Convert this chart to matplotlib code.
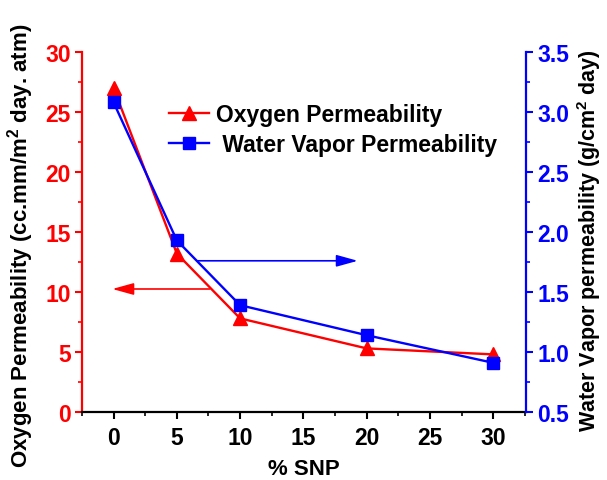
import matplotlib
matplotlib.use("Agg")
import matplotlib.pyplot as plt

snp = [0, 5, 10, 20, 30]
oxygen = [27.0, 13.2, 7.8, 5.3, 4.8]
water = [3.08, 1.93, 1.39, 1.14, 0.91]
xticks = [0, 5, 10, 15, 20, 25, 30]
yticks_left = [0, 5, 10, 15, 20, 25, 30]
yticks_right = [0.5, 1.0, 1.5, 2.0, 2.5, 3.0, 3.5]

plt.rcParams['font.family'] = ['Liberation Sans', 'DejaVu Sans']
plt.rcParams['font.weight'] = 'bold'
plt.rcParams['mathtext.fontset'] = 'custom'
plt.rcParams['mathtext.rm'] = 'Liberation Sans:bold'
plt.rcParams['mathtext.bf'] = 'Liberation Sans:bold'
plt.rcParams['mathtext.it'] = 'Liberation Sans:bold'

fig = plt.figure(figsize=(6.07, 4.81), dpi=100)
ax = fig.add_axes([0.135, 0.1414, 0.7316, 0.7484])
ax2 = ax.twinx()

red = '#ff0000'
blue = '#0000ff'

l1, = ax.plot(snp, oxygen, color=red, lw=1.7, marker='^', ms=10, label='Oxygen Permeability')
l2, = ax2.plot(snp, water, color=blue, lw=1.7, marker='s', ms=8.5, label=' Water Vapor Permeability')

ax.set_xlim(-2.5, 32.6)
ax.set_ylim(0, 30)
ax2.set_ylim(0.5, 3.5)
ax.set_xticks(xticks)
ax.set_xticks([2.5, 7.5, 12.5, 17.5, 22.5, 27.5, -2.5, 32.5], minor=True)
ax.set_yticks(yticks_left)
ax.set_yticks([2.5, 7.5, 12.5, 17.5, 22.5, 27.5], minor=True)
ax2.set_yticks(yticks_right)
ax2.set_yticklabels(['%.1f' % v for v in yticks_right])
ax2.set_yticks([0.75, 1.25, 1.75, 2.25, 2.75, 3.25], minor=True)

for a in (ax, ax2):
    a.spines['top'].set_visible(False)
ax.spines['left'].set_color(red)
ax.spines['left'].set_linewidth(1.6)
ax.spines['right'].set_visible(False)
ax.spines['bottom'].set_linewidth(1.6)
ax2.spines['left'].set_visible(False)
ax2.spines['bottom'].set_visible(False)
ax2.spines['right'].set_color(blue)
ax2.spines['right'].set_linewidth(1.6)

fs = 16.5
ax.tick_params(axis='x', which='major', direction='out', length=5, width=1.5, labelsize=fs, pad=5)
ax.tick_params(axis='x', which='minor', direction='out', length=3, width=1.2)
ax.tick_params(axis='y', which='major', colors=red, direction='out', length=5, width=1.5, labelsize=fs, pad=3)
ax.tick_params(axis='y', which='minor', colors=red, direction='out', length=3, width=1.2)
ax2.tick_params(axis='y', which='major', colors=blue, direction='out', length=5, width=1.5, labelsize=fs, pad=3)
ax2.tick_params(axis='y', which='minor', colors=blue, direction='out', length=3, width=1.2)
for lab in ax.get_xticklabels() + ax.get_yticklabels() + ax2.get_yticklabels():
    lab.set_fontweight('bold')

ax.set_xlabel('% SNP', fontsize=16, fontweight='bold')
ax.xaxis.set_label_coords(0.5, -0.128)
ax.set_ylabel(r'Oxygen Permeability (cc.mm/m$^{2}$ day. atm)', fontsize=16, fontweight='bold')
ax.yaxis.set_label_coords(-0.104, 0.465)
ax2.set_ylabel(r'Water Vapor permeability (g/cm$^{2}$ day)', fontsize=15.5, fontweight='bold')
ax2.yaxis.set_label_coords(1.11, 0.48)

astyle = '-|>,head_length=0.65,head_width=0.18'
ax.annotate('', xy=(-0.1, 10.25), xytext=(7.6, 10.25),
            arrowprops=dict(arrowstyle=astyle, color=red, lw=1.2,
                            mutation_scale=20, shrinkA=0, shrinkB=0))
ax2.annotate('', xy=(19.3, 1.76), xytext=(6.6, 1.76),
             arrowprops=dict(arrowstyle=astyle, color=blue, lw=1.2,
                             mutation_scale=20, shrinkA=0, shrinkB=0))

leg = ax2.legend([l1, l2], ['Oxygen Permeability', ' Water Vapor Permeability'],
                 loc='upper left', bbox_to_anchor=(0.17, 0.89), frameon=False,
                 prop={'weight': 'bold', 'size': fs}, handlelength=1.75, handletextpad=0.3,
                 labelspacing=0.3, borderpad=0)

fig.savefig('out.png', dpi=100)
